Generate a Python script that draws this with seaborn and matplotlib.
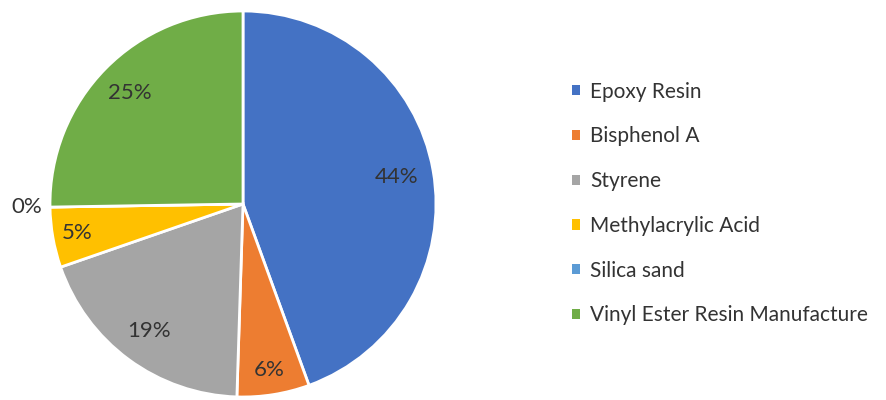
import numpy as np
import matplotlib
matplotlib.use("Agg")
import matplotlib.pyplot as plt
from matplotlib.patches import Patch
import seaborn as sns

categories = ["Epoxy Resin", "Bisphenol A", "Styrene", "Methylacrylic Acid",
              "Silica sand", "Vinyl Ester Resin Manufacture"]
shares = [44, 6, 19, 5, 0, 25]
colors = ["#4472C4", "#ED7D31", "#A5A5A5", "#FFC000", "#5B9BD5", "#70AD47"]
# radial position of each percentage label (fraction of the radius)
label_dist = [0.81, 0.87, 0.82, 0.87, 1.12, 0.82]

sns.set_theme(style="white")
sns.set_palette(colors)
plt.rcParams["font.family"] = ["Lato", "DejaVu Sans"]
text_color = "#333333"

W, H = 887, 400
fig = plt.figure(figsize=(W / 100, H / 100), dpi=100)

cx, cy, r = 243, 196, 193
ax = fig.add_axes([(cx - r) / W, (cy - r) / H, 2 * r / W, 2 * r / H])

wedges, _ = ax.pie(shares, colors=sns.color_palette(), startangle=90,
                   counterclock=False, radius=1.0,
                   wedgeprops=dict(edgecolor="white", linewidth=2))
ax.set_xlim(-1, 1)
ax.set_ylim(-1, 1)
ax.set_aspect("equal")
ax.axis("off")

# percentage labels placed along each wedge's mid angle
for w, v, d in zip(wedges, shares, label_dist):
    mid = np.deg2rad((w.theta1 + w.theta2) / 2)
    ax.text(d * np.cos(mid), d * np.sin(mid), f"{v}%",
            ha="center", va="center", fontsize=16, color=text_color)

handles = [Patch(facecolor=c, edgecolor="none") for c in colors]
leg = fig.legend(handles, categories, loc="center left",
                 bbox_to_anchor=(553 / W, 1 - 203.5 / H), frameon=False,
                 fontsize=15, handlelength=0.38, handleheight=0.38,
                 handletextpad=0.5, labelspacing=1.19, labelcolor=text_color)

fig.savefig("out.png", dpi=100)
